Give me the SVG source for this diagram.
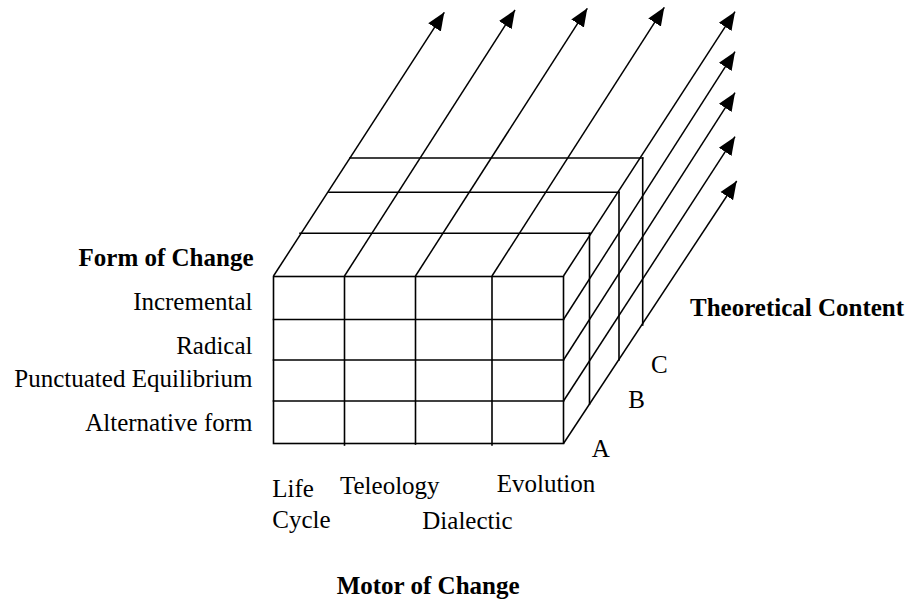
<svg xmlns="http://www.w3.org/2000/svg" width="909" height="609" viewBox="0 0 909 609">
  <style>
    .ln { stroke: #000; stroke-width: 1.6; fill: none; stroke-linecap: square; }
    .ax { stroke: #000; stroke-width: 1.5; fill: none; marker-end: url(#ah); }
    .b { font-weight: bold; }
    .r { text-anchor: end; }
  </style>
  <defs>
    <marker id="ah" markerUnits="userSpaceOnUse" markerWidth="20" markerHeight="18" refX="18" refY="0" viewBox="0 -9 20 18" orient="auto">
      <path d="M0,-7.5 L18,0 L0,7.5 Z" fill="#000"/>
    </marker>
  </defs>
  <rect width="909" height="609" fill="#fff"/>

  <g id="connectors">
    <line class="ax" x1="273.5" y1="276" x2="444.3" y2="12.3"/>
    <line class="ax" x1="344.5" y1="276" x2="515" y2="10"/>
    <line class="ax" x1="415.5" y1="276" x2="587.3" y2="8.3"/>
    <line class="ax" x1="492" y1="276" x2="664.3" y2="7.3"/>
    <line class="ax" x1="563.5" y1="276" x2="735" y2="11.7"/>
    <line class="ax" x1="563.5" y1="319.5" x2="735" y2="51.7"/>
    <line class="ax" x1="563.5" y1="360" x2="735" y2="92.7"/>
    <line class="ax" x1="563.5" y1="401" x2="735" y2="136.7"/>
    <line class="ax" x1="563.5" y1="443.5" x2="736.7" y2="181"/>
  </g>

  <g id="top-face">
    <line class="ln" x1="300" y1="233.3" x2="590" y2="233.3"/>
    <line class="ln" x1="329" y1="192.3" x2="619" y2="192.3"/>
    <line class="ln" x1="350" y1="158" x2="642.7" y2="158"/>
  </g>

  <g id="side-face">
    <line class="ln" x1="589.5" y1="233.3" x2="589.5" y2="404"/>
    <line class="ln" x1="619" y1="192.3" x2="619" y2="360"/>
    <line class="ln" x1="642.7" y1="158" x2="642.7" y2="325"/>
  </g>

  <g id="front-face">
    <rect class="ln" x="273.5" y="276.5" width="290" height="167"/>
    <line class="ln" x1="273.5" y1="319.5" x2="563.5" y2="319.5"/>
    <line class="ln" x1="273.5" y1="360" x2="563.5" y2="360"/>
    <line class="ln" x1="273.5" y1="401" x2="563.5" y2="401"/>
    <line class="ln" x1="344.5" y1="276.5" x2="344.5" y2="445"/>
    <line class="ln" x1="415.5" y1="276.5" x2="415.5" y2="444"/>
    <line class="ln" x1="492" y1="276.5" x2="492" y2="445"/>
  </g>

  <g id="form-of-change" font-family="Liberation Serif" font-size="25" fill="#000">
    <text class="b r" x="253.5" y="265.5">Form of Change</text>
    <text class="r" x="252.5" y="310">Incremental</text>
    <text class="r" x="252.5" y="353.5">Radical</text>
    <text class="r" x="252.5" y="387">Punctuated Equilibrium</text>
    <text class="r" x="252.5" y="430.5">Alternative form</text>
  </g>

  <g id="motor-of-change" font-family="Liberation Serif" font-size="25" fill="#000">
    <text x="272.3" y="497.3">Life</text>
    <text x="272.3" y="527.7">Cycle</text>
    <text x="340" y="494.3">Teleology</text>
    <text x="422.3" y="529.3">Dialectic</text>
    <text x="496.7" y="491.7">Evolution</text>
    <text class="b" x="336.7" y="594">Motor of Change</text>
  </g>

  <g id="theoretical-content" font-family="Liberation Serif" font-size="25" fill="#000">
    <text x="591.7" y="456.7">A</text>
    <text x="628.3" y="408.3">B</text>
    <text x="651" y="373.3">C</text>
    <text class="b" x="690" y="316">Theoretical Content</text>
  </g>
</svg>
